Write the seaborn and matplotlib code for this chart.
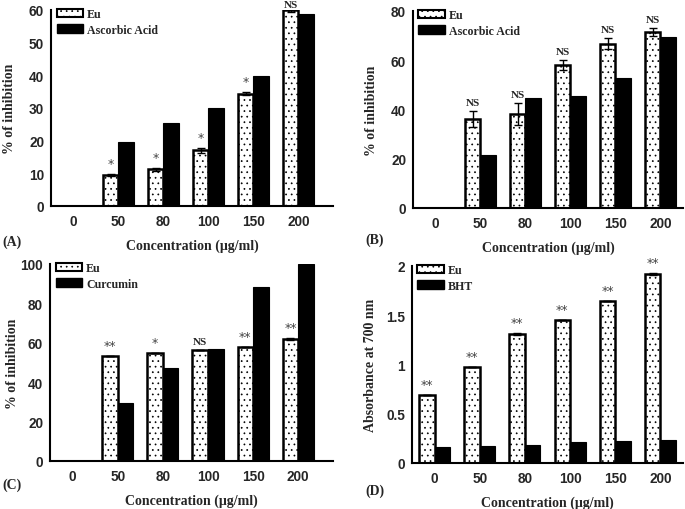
import numpy as np
import pandas as pd
import matplotlib
matplotlib.use("Agg")
import matplotlib.pyplot as plt
import seaborn as sns

sns.set_style("white")
plt.rcParams['font.family'] = ['Liberation Sans', 'DejaVu Sans']
plt.rcParams['hatch.linewidth'] = 0.5
plt.rcParams['hatch.color'] = '#9a9a9a'

concentrations = ["0", "50", "80", "100", "150", "200"]

# Panel A
a_eu = [0, 9.4, 11.2, 17.0, 34.4, 60.0]
a_eu_err = [0, 0.3, 0.4, 0.8, 0.4, 0.6]
a_ref = [0, 19.7, 25.5, 30.0, 39.8, 58.7]
a_stars = ["", "*", "*", "*", "*", "NS"]

# Panel B
b_eu = [0, 36.0, 38.2, 58.2, 66.7, 71.4]
b_eu_err = [0, 3.2, 4.4, 2.0, 2.3, 1.6]
b_ref = [0, 21.5, 44.8, 45.6, 52.6, 69.6]
b_stars = ["", "NS", "NS", "NS", "NS", "NS"]

# Panel C
c_eu = [0, 53.2, 54.6, 56.1, 57.8, 62.0]
c_eu_err = [0, 0, 0, 0, 0, 0.6]
c_ref = [0, 29.6, 47.4, 57.0, 88.4, 100.2]
c_stars = ["", "**", "*", "NS", "**", "**"]

# Panel D
d_eu = [0.69, 0.97, 1.31, 1.45, 1.64, 1.92]
d_eu_err = [0, 0, 0.01, 0, 0, 0.01]
d_ref = [0.16, 0.17, 0.18, 0.21, 0.22, 0.23]
d_stars = ["**", "**", "**", "**", "**", "**"]

serif = 'Liberation Serif'
W, H = 685, 510

panels = [
    dict(eu=a_eu, err=a_eu_err, ref=a_ref, stars=a_stars, refname="Ascorbic Acid",
         ylim=(0, 60), yticks=[0, 10, 20, 30, 40, 50, 60], ylabel="% of inhibition",
         box=(51, 11, 333, 207), xlim=(-0.5, 5.77), tag="(A)", tagxy=(2, 242), ylx=10),
    dict(eu=b_eu, err=b_eu_err, ref=b_ref, stars=b_stars, refname="Ascorbic Acid",
         ylim=(0, 80), yticks=[0, 20, 40, 60, 80], ylabel="% of inhibition",
         box=(413, 12, 683, 209), xlim=(-0.5, 5.5), tag="(B)", tagxy=(365, 240), ylx=372),
    dict(eu=c_eu, err=c_eu_err, ref=c_ref, stars=c_stars, refname="Curcumin",
         ylim=(0, 100), yticks=[0, 20, 40, 60, 80, 100], ylabel="% of inhibition",
         box=(50, 265, 333, 462), xlim=(-0.5, 5.77), tag="(C)", tagxy=(2, 485), ylx=13),
    dict(eu=d_eu, err=d_eu_err, ref=d_ref, stars=d_stars, refname="BHT",
         ylim=(0, 2), yticks=[0, 0.5, 1, 1.5, 2], ylabel="Absorbance at 700 nm",
         box=(412, 267, 683, 464), xlim=(-0.5, 5.5), tag="(D)", tagxy=(365, 491), ylx=370),
]

fig = plt.figure(figsize=(W / 100, H / 100), dpi=100)

for p in panels:
    l, t, r, b = p["box"]
    ax = fig.add_axes([l / W, 1 - b / H, (r - l) / W, (b - t) / H])
    df = pd.DataFrame({
        "conc": concentrations * 2,
        "val": list(p["eu"]) + list(p["ref"]),
        "series": ["Eu"] * 6 + [p["refname"]] * 6,
    })
    sns.barplot(data=df, x="conc", y="val", hue="series", order=concentrations,
                hue_order=["Eu", p["refname"]], palette=["white", "black"],
                width=0.69, errorbar=None, ax=ax, saturation=1, legend=True)
    eu_bars = ax.containers[0]
    for bar in eu_bars:
        bar.set_edgecolor("black")
        bar.set_linewidth(1.8)
        bar.set_hatch("...")
        try:
            bar.set_hatchcolor("#9a9a9a")
        except Exception:
            pass
    for bar in ax.containers[1]:
        bar.set_edgecolor("black")
        bar.set_linewidth(0.8)
    xs = [bb.get_x() + bb.get_width() / 2 for bb in eu_bars]
    hs = [bb.get_height() for bb in eu_bars]
    errs = np.array(p["err"])
    ax.errorbar(xs, hs, yerr=errs, fmt="none", ecolor="black", elinewidth=1, capsize=3, capthick=1)
    span = p["ylim"][1] - p["ylim"][0]
    px = span / (b - t)
    for x, h, e, s in zip(xs, hs, errs, p["stars"]):
        if not s:
            continue
        y = min(h + e + 4 * px, p["ylim"][1] + 1 * px)
        if s == "NS":
            ax.text(x, y, s, ha="center", va="bottom", family=serif,
                    fontweight="bold", fontsize=8, color="#222222", clip_on=False)
        else:
            ax.text(x, y, s, ha="center", va="bottom", family="DejaVu Sans",
                    fontsize=9, color="#444444", clip_on=False)
    ax.set_xlim(*p["xlim"])
    ax.set_ylim(*p["ylim"])
    ax.set_yticks(p["yticks"])
    ax.set_yticklabels([f"{tk:g}" for tk in p["yticks"]])
    ax.tick_params(axis="y", length=0, labelsize=9.8, pad=5)
    ax.tick_params(axis="x", length=0, labelsize=9.8, pad=5.5)
    for lab in ax.get_xticklabels() + ax.get_yticklabels():
        lab.set_fontweight("bold")
    ax.set_xlabel("Concentration (μg/ml)", family=serif, fontweight="bold", fontsize=10, labelpad=8)
    ax.set_ylabel(p["ylabel"], family=serif, fontweight="bold", fontsize=10)
    ax.yaxis.label.set_verticalalignment("center")
    ax.yaxis.set_label_coords((p["ylx"] - l) / (r - l), 0.5)
    sns.despine(ax=ax)
    for sp in ["left", "bottom"]:
        ax.spines[sp].set_linewidth(1.5)
        ax.spines[sp].set_color("black")
    leg = ax.legend(loc="upper left", bbox_to_anchor=(0.02, 1.01), frameon=False,
                    prop={"family": serif, "weight": "bold", "size": 8.6},
                    handlelength=2.2, handleheight=0.7, labelspacing=0.3, handletextpad=0.35,
                    borderaxespad=0, borderpad=0)
    for hd in leg.legend_handles:
        hd.set_edgecolor("black")
    leg.legend_handles[0].set_hatch("...")
    leg.legend_handles[0].set_linewidth(1.5)
    fig.text(p["tagxy"][0] / W, 1 - p["tagxy"][1] / H, p["tag"], family=serif,
             fontweight="bold", fontsize=10, ha="left", va="center")

fig.savefig("out.png", dpi=100)
